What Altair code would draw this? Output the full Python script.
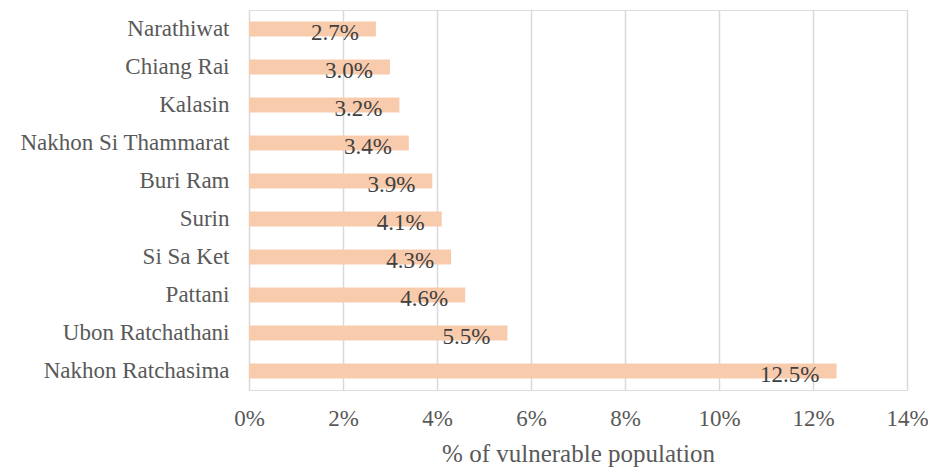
import altair as alt
import pandas as pd

provinces = [
    "Narathiwat", "Chiang Rai", "Kalasin", "Nakhon Si Thammarat", "Buri Ram",
    "Surin", "Si Sa Ket", "Pattani", "Ubon Ratchathani", "Nakhon Ratchasima",
]
shares = [2.7, 3.0, 3.2, 3.4, 3.9, 4.1, 4.3, 4.6, 5.5, 12.5]

df = pd.DataFrame({"province": provinces, "share": [v / 100 for v in shares]})
df["label"] = [f"{v:.1f}%" for v in shares]

FONT = "Liberation Serif"

y_enc = alt.Y(
    "province:N",
    sort=provinces,
    title=None,
    scale=alt.Scale(paddingInner=0.6, paddingOuter=0.3),
    axis=alt.Axis(
        domain=False, ticks=False, grid=False, labelPadding=20, labelLimit=400,
        labelFont=FONT, labelFontSize=23, labelColor="#595959",
    ),
)
x_enc = alt.X(
    "share:Q",
    title="% of vulnerable population",
    scale=alt.Scale(domain=[0, 0.14], nice=False),
    axis=alt.Axis(
        format=".0%", values=[i / 100 for i in range(0, 15, 2)],
        domain=False, ticks=False, grid=True, gridColor="#D9D9D9", gridWidth=1.5,
        labelFlush=False,
        labelFont=FONT, labelFontSize=23, labelColor="#595959", labelPadding=17,
        titleFont=FONT, titleFontSize=25, titleFontWeight="normal",
        titleColor="#595959", titlePadding=11,
    ),
)

bars = alt.Chart(df).mark_bar(color="#F8CBAD").encode(x=x_enc, y=y_enc)

labels = alt.Chart(df).mark_text(
    align="right", baseline="middle", dx=-17, dy=4,
    font=FONT, fontSize=23, color="#404040",
).encode(x="share:Q", y=alt.Y("province:N", sort=provinces), text="label:N")

chart = (
    alt.layer(bars, labels)
    .properties(
        width=658, height=380,
        autosize=alt.AutoSizeParams(type="none"),
        padding={"left": 249, "top": 10, "right": 21, "bottom": 80},
    )
    .configure_view(strokeWidth=0, stroke="transparent")
    .configure(background="white")
)

chart.save("out.html", embed_options={"renderer": "svg", "actions": False})
